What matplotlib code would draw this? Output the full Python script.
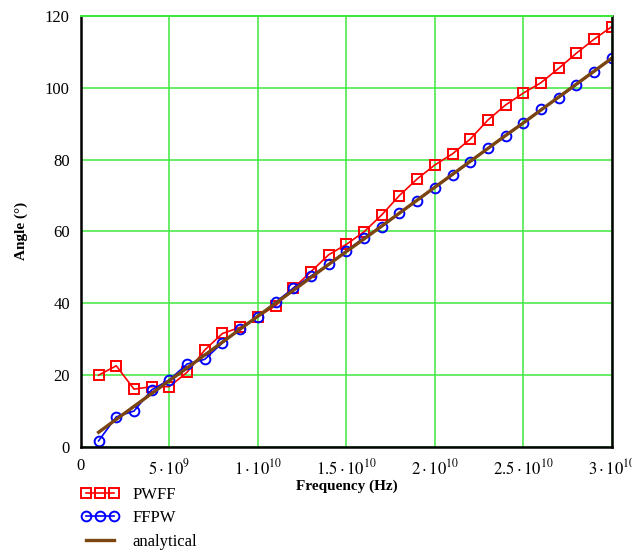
import matplotlib
matplotlib.use("Agg")
import matplotlib.pyplot as plt

plt.rcParams['font.family'] = ['Liberation Serif', 'DejaVu Serif']
plt.rcParams['mathtext.fontset'] = 'stix'

# frecuencias en Hz (1..30 GHz)
freq = [f * 1e9 for f in range(1, 31)]

pwff = [20.0, 22.6, 16.1, 16.8, 16.8, 20.8, 27.0, 31.6, 33.3, 36.3,
        39.3, 44.2, 48.8, 53.5, 56.4, 59.9, 64.6, 70.0, 74.6, 78.5,
        81.6, 85.7, 91.0, 95.2, 98.5, 101.4, 105.4, 109.6, 113.5, 117.0]

ffpw = [1.7, 8.4, 10.0, 15.9, 18.7, 23.1, 24.4, 29.0, 32.8, 36.3,
        40.3, 44.2, 47.6, 50.9, 54.6, 58.3, 61.3, 65.1, 68.6, 72.2,
        75.7, 79.4, 83.2, 86.7, 90.3, 94.0, 97.2, 100.8, 104.5, 108.2]

analytical = [4.1, 7.7, 11.3, 14.9, 18.5, 22.0, 25.6, 29.2, 32.8, 36.4,
              40.0, 43.6, 47.2, 50.8, 54.4, 57.9, 61.5, 65.1, 68.7, 72.3,
              75.9, 79.5, 83.1, 86.7, 90.2, 93.8, 97.4, 101.0, 104.6, 108.2]

xticks = [0, 5e9, 1e10, 1.5e10, 2e10, 2.5e10, 3e10]
xtick_labels = ['0', r'$5\cdot10^{9}$', r'$1\cdot10^{10}$', r'$1.5\cdot10^{10}$',
                r'$2\cdot10^{10}$', r'$2.5\cdot10^{10}$', r'$3\cdot10^{10}$']
yticks = [0, 20, 40, 60, 80, 100, 120]

grid_green = '#3ee83e'

fig = plt.figure(figsize=(6.32, 5.57), dpi=100)
ax = fig.add_axes([0.128, 0.1975, 0.84, 0.774])

ax.plot(freq, pwff, color='red', lw=1.2, marker='s', ms=7, mfc='none',
        mec='red', mew=1.4, label='PWFF')
ax.plot(freq, ffpw, color='blue', lw=1.2, marker='o', ms=7, mfc='none',
        mec='blue', mew=1.4, label='FFPW')
ax.plot(freq, analytical, color='#7a4510', lw=2.4, label='analytical')

ax.set_xlim(0, 3e10)
ax.set_ylim(0, 120)
ax.set_xticks(xticks)
ax.set_xticklabels(xtick_labels, fontsize=12)
ax.set_yticks(yticks)
ax.set_yticklabels([str(v) for v in yticks], fontsize=12)
ax.tick_params(length=0, pad=8)
ax.grid(True, color=grid_green, lw=1.1)
ax.set_axisbelow(True)

for s in ['left', 'bottom', 'right']:
    ax.spines[s].set_linewidth(1.8)
    ax.spines[s].set_color('black')
ax.spines['top'].set_color(grid_green)
ax.spines['top'].set_linewidth(1.5)

ax.set_xlabel('Frequency (Hz)', fontsize=11, fontweight='bold', labelpad=1)
ax.set_ylabel('Angle (°)', fontsize=11, fontweight='bold', labelpad=12)

fig.legend(handles=ax.get_lines(), loc='upper left',
           bbox_to_anchor=(0.117, 0.138), frameon=False, fontsize=12,
           numpoints=3, handlelength=2.3, handletextpad=0.8,
           labelspacing=0.45, borderaxespad=0)

fig.savefig('out.png', dpi=100)
